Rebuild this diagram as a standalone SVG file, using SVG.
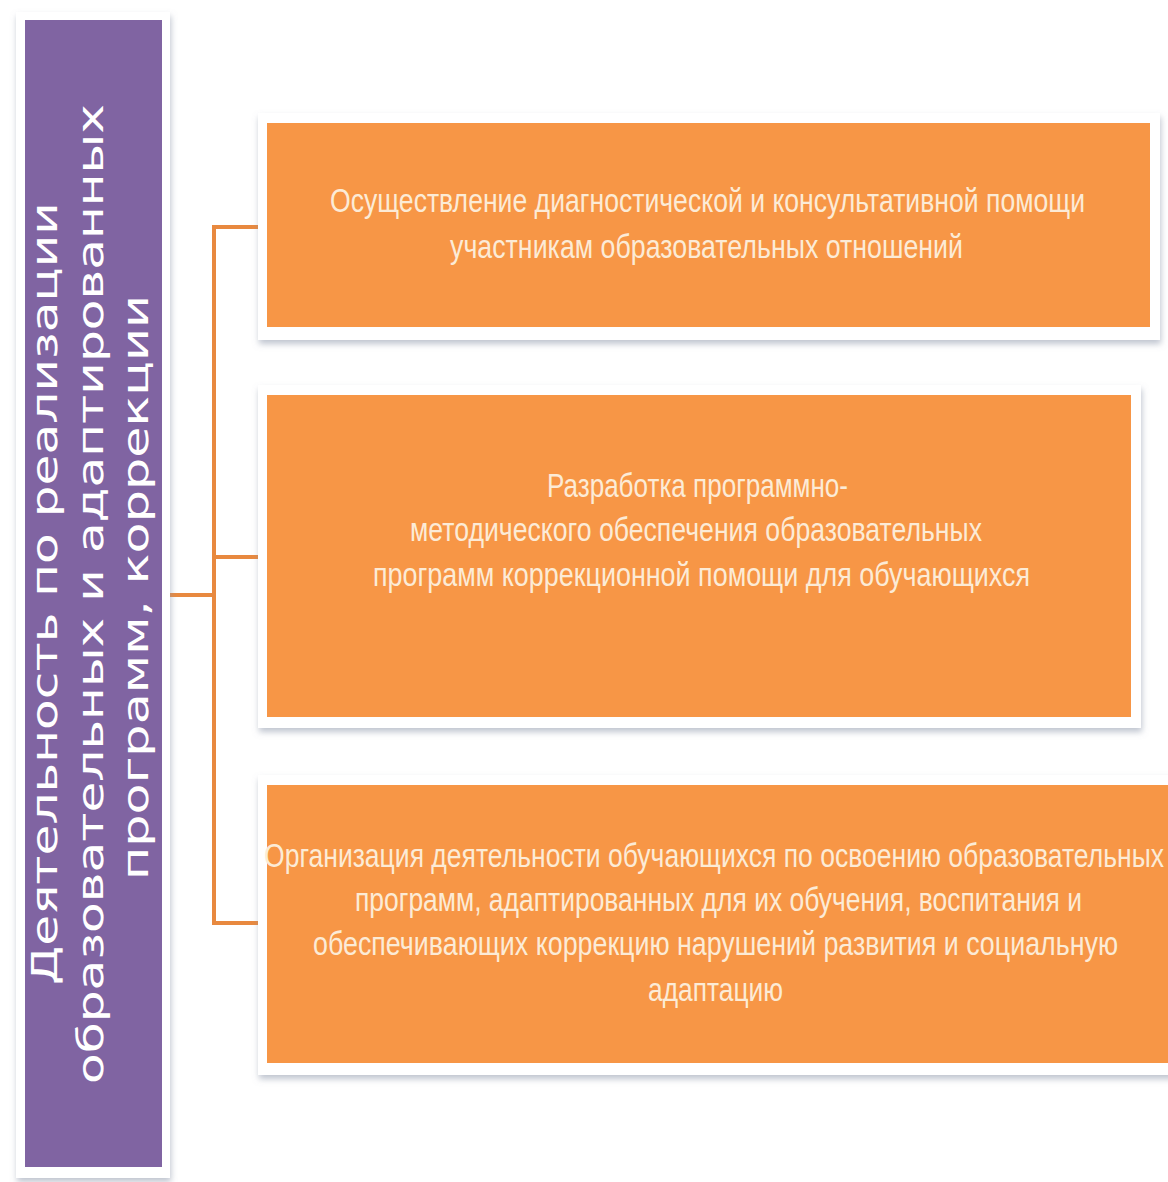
<svg xmlns="http://www.w3.org/2000/svg" width="1168" height="1182" viewBox="0 0 1168 1182">
  <defs>
    <filter id="sh" x="-5%" y="-5%" width="110%" height="110%">
      <feDropShadow dx="1" dy="4" stdDeviation="3" flood-color="#8a94a8" flood-opacity="0.55"/>
    </filter>
    <style>
      .frame { fill: #ffffff; filter: url(#sh); }
      .orange { fill: #F79646; }
      .purple { fill: #8064A2; }
      .otxt { font-family: "Liberation Sans", Arial, sans-serif; font-size: 34px; fill: #FCEBD6; }
      .ptxt { font-family: "DejaVu Sans", Verdana, sans-serif; font-size: 35px; fill: #ffffff; }
      .conn { stroke: #E8893F; stroke-width: 4; fill: none; }
    </style>
  </defs>
  <rect width="1168" height="1182" fill="#ffffff"/>

  <g id="connectors">
    <line class="conn" x1="170" y1="595" x2="214" y2="595"/>
    <line class="conn" x1="214" y1="225" x2="214" y2="925"/>
    <line class="conn" x1="212" y1="227" x2="258" y2="227"/>
    <line class="conn" x1="212" y1="557" x2="258" y2="557"/>
    <line class="conn" x1="212" y1="923" x2="258" y2="923"/>
  </g>

  <g id="root">
    <rect class="frame" x="16" y="12" width="154" height="1166"/>
    <rect class="purple" x="25" y="20" width="137" height="1147"/>
    <text class="ptxt" transform="translate(57,985) rotate(-90)" textLength="783" lengthAdjust="spacingAndGlyphs">Деятельность по реализации</text>
    <text class="ptxt" transform="translate(103,1084) rotate(-90)" textLength="980" lengthAdjust="spacingAndGlyphs">образовательных и адаптированных</text>
    <text class="ptxt" transform="translate(148,880) rotate(-90)" textLength="585" lengthAdjust="spacingAndGlyphs">программ, коррекции</text>
  </g>

  <g id="box1">
    <rect class="frame" x="258" y="113" width="902" height="227"/>
    <rect class="orange" x="267" y="123" width="883" height="204"/>
    <text class="otxt" x="330" y="212" textLength="755" lengthAdjust="spacingAndGlyphs">Осуществление диагностической и консультативной помощи</text>
    <text class="otxt" x="450" y="258" textLength="513" lengthAdjust="spacingAndGlyphs">участникам образовательных отношений</text>
  </g>

  <g id="box2">
    <rect class="frame" x="258" y="385" width="883" height="343"/>
    <rect class="orange" x="267" y="395" width="864" height="322"/>
    <text class="otxt" x="547" y="497" textLength="301" lengthAdjust="spacingAndGlyphs">Разработка программно-</text>
    <text class="otxt" x="410" y="541" textLength="572" lengthAdjust="spacingAndGlyphs">методического обеспечения образовательных</text>
    <text class="otxt" x="373" y="586" textLength="657" lengthAdjust="spacingAndGlyphs">программ коррекционной помощи для обучающихся</text>
  </g>

  <g id="box3">
    <rect class="frame" x="258" y="775" width="915" height="300"/>
    <rect class="orange" x="267" y="785" width="901" height="278"/>
    <text class="otxt" x="264" y="867" textLength="900" lengthAdjust="spacingAndGlyphs">Организация деятельности обучающихся по освоению образовательных</text>
    <text class="otxt" x="355" y="911" textLength="727" lengthAdjust="spacingAndGlyphs">программ, адаптированных для их обучения, воспитания и</text>
    <text class="otxt" x="313" y="955" textLength="805" lengthAdjust="spacingAndGlyphs">обеспечивающих коррекцию нарушений развития и социальную</text>
    <text class="otxt" x="648" y="1001" textLength="135" lengthAdjust="spacingAndGlyphs">адаптацию</text>
  </g>
</svg>
